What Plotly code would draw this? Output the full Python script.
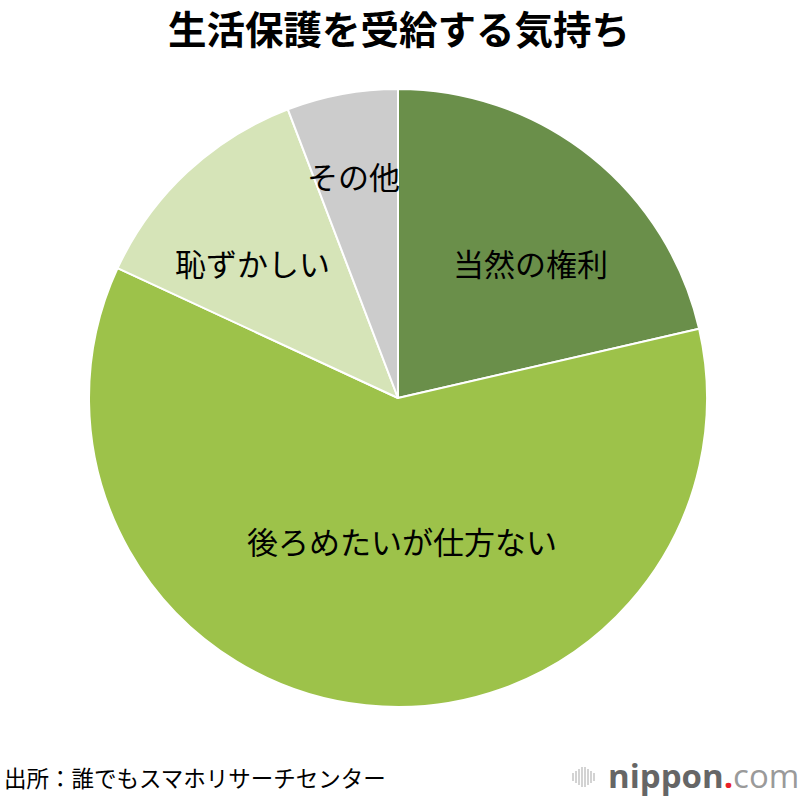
import plotly.graph_objects as go

labels = ["当然の権利", "後ろめたいが仕方ない", "恥ずかしい", "その他"]
values = [21.4, 60.5, 12.3, 5.8]
colors = ["#6a8f4a", "#9dc24a", "#d6e4b8", "#cccccc"]
title = "生活保護を受給する気持ち"
source = "出所：誰でもスマホリサーチセンター"

W = H = 800
def px(x, y):
    return x / W, 1 - y / H

fig = go.Figure(go.Pie(
    labels=labels, values=values, sort=False, direction="clockwise", rotation=0,
    marker=dict(colors=colors, line=dict(color="white", width=2)),
    textinfo="none", hoverinfo="label+percent",
    domain=dict(x=[89 / W, 707 / W], y=[1 - 707 / H, 1 - 89 / H]),
    showlegend=False,
))

FONT = "Noto Sans CJK JP"
label_pos = [(530, 262), (402, 540), (252, 262), (353, 175)]
ann = []
for t, (x, y) in zip(labels, label_pos):
    ax, ay = px(x, y)
    ann.append(dict(text=t, x=ax, y=ay, xref="paper", yref="paper", showarrow=False,
                    font=dict(family=FONT, size=31, color="#000000"),
                    xanchor="center", yanchor="middle"))

tx, ty = px(399, 27)
ann.append(dict(text="<b>" + title + "</b>", x=tx, y=ty, xref="paper", yref="paper",
                showarrow=False, font=dict(family=FONT, size=38.5, color="#000000"),
                xanchor="center", yanchor="middle"))
sx, sy = px(2, 777)
ann.append(dict(text=source, x=sx, y=sy, xref="paper", yref="paper", showarrow=False,
                font=dict(family=FONT, size=22.5, color="#000000"),
                xanchor="left", yanchor="middle"))
lx, ly = px(606, 775)
ann.append(dict(text="<b>nippon</b><span style='color:#e8212a'><b>.</b></span><span style='color:#9a9a9a'>com</span>",
                x=lx, y=ly, xref="paper", yref="paper", showarrow=False,
                font=dict(family="Open Sans", size=33, color="#666666"),
                xanchor="left", yanchor="middle"))

shapes = []
bars = [(573, 8), (576, 12), (579, 16), (582, 20), (585, 20), (588, 16), (591, 12), (594, 8)]
for bx, h in bars:
    x0, y0 = px(bx, 777 - h / 2)
    _, y1 = px(bx, 777 + h / 2)
    shapes.append(dict(type="line", xref="paper", yref="paper", x0=x0, x1=x0, y0=y0, y1=y1,
                       line=dict(color="#c4c4c4", width=1.5)))

fig.update_layout(width=W, height=H, margin=dict(l=0, r=0, t=0, b=0),
                  paper_bgcolor="white", plot_bgcolor="white",
                  annotations=ann, shapes=shapes)
fig.write_html("out.html", config=dict(displayModeBar=False),
               post_script="document.body.style.margin='0';document.body.style.overflow='hidden';")
